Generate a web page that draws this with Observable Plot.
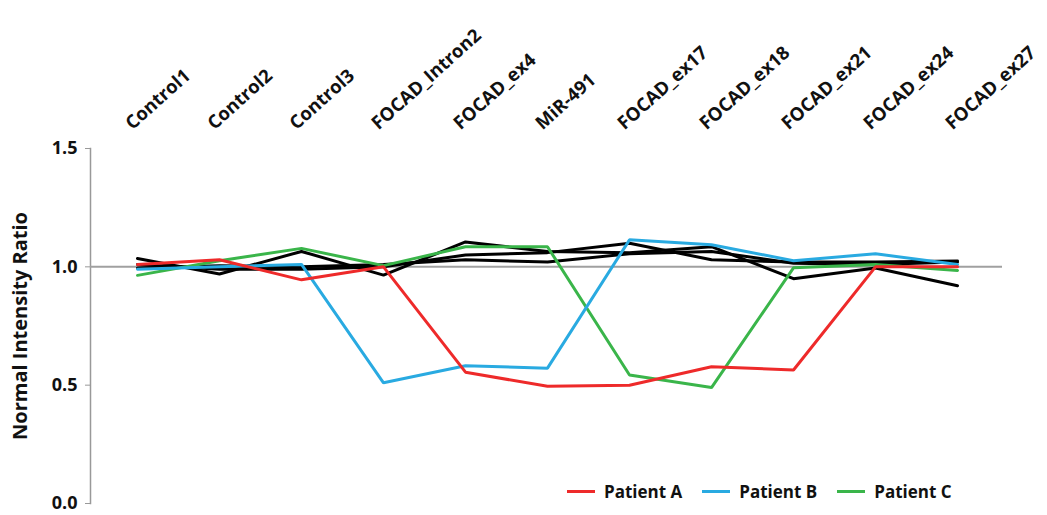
<!DOCTYPE html>
<html>
<head>
<meta charset="utf-8">
<script src="https://cdn.jsdelivr.net/npm/d3@7"></script>
<script src="https://cdn.jsdelivr.net/npm/@observablehq/plot@0.6"></script>
<style>
  html, body { margin: 0; padding: 0; background: #fff; }
  #wrap { position: relative; width: 1047px; height: 515px; font-family: "Open Sans", sans-serif; }
  #legend { position: absolute; left: 567px; top: 480px; display: flex; align-items: center; font-weight: bold; font-size: 17px; color: #111; }
  #legend .item { display: flex; align-items: center; margin-right: 20px; }
  #legend .sw { width: 28px; height: 3px; margin-right: 9px; }
</style>
</head>
<body>
<div id="wrap"><div id="legend"></div></div>
<script>
const categories = ["Control1","Control2","Control3","FOCAD_Intron2","FOCAD_ex4","MiR-491","FOCAD_ex17","FOCAD_ex18","FOCAD_ex21","FOCAD_ex24","FOCAD_ex27"];
const normal1 = [1.035, 0.97, 1.065, 0.965, 1.105, 1.065, 1.06, 1.085, 0.95, 0.995, 0.92];
const normal2 = [1.01, 0.99, 0.99, 1.0, 1.05, 1.06, 1.10, 1.03, 1.02, 1.02, 1.025];
const normal3 = [0.995, 1.005, 1.0, 1.01, 1.03, 1.02, 1.055, 1.065, 1.015, 1.01, 1.02];
const patientA = [1.01, 1.03, 0.945, 1.0, 0.555, 0.495, 0.5, 0.578, 0.564, 1.0, 1.0];
const patientB = [0.99, 1.0, 1.01, 0.51, 0.582, 0.572, 1.114, 1.093, 1.026, 1.055, 1.01];
const patientC = [0.964, 1.026, 1.078, 1.005, 1.085, 1.085, 0.543, 0.49, 0.996, 1.01, 0.985];
const yTicks = [0, 0.5, 1.0, 1.5];
const seriesNames = ["Normal 1","Normal 2","Normal 3","Patient C","Patient B","Patient A"];
const seriesValues = [normal1, normal2, normal3, patientC, patientB, patientA];
const seriesColors = ["#000000","#000000","#000000","#3ab54a","#29aae1","#ee2a2a"];
const legendNames = ["Patient A","Patient B","Patient C"];
const legendColors = ["#ee2a2a","#29aae1","#3ab54a"];

const rows = [];
seriesNames.forEach((s, i) => seriesValues[i].forEach((v, j) => rows.push({series: s, cat: categories[j], value: v})));

const plot = Plot.plot({
  width: 1047,
  height: 515,
  marginLeft: 90,
  marginRight: 45,
  marginTop: 148,
  marginBottom: 12,
  style: {fontFamily: "'Open Sans', sans-serif", fontWeight: "bold", color: "#111", background: "#fff", overflow: "visible"},
  x: {type: "point", domain: categories, range: [133, 960], padding: 0, axis: null},
  y: {domain: [0, 1.5], axis: null},
  color: {domain: seriesNames, range: seriesColors},
  marks: [
    Plot.frame({anchor: "left", stroke: "#999", strokeWidth: 1.5}),
    Plot.axisY({ticks: yTicks, tickFormat: d3.format(".1f"), tickSize: 5, tickPadding: 8, stroke: "#999", fontSize: 18, label: null}),
    Plot.ruleY([1], {stroke: "#a0a0a0", strokeWidth: 2}),
    Plot.line(rows, {x: "cat", y: "value", z: "series", stroke: "series", strokeWidth: 3, strokeLinejoin: "miter"}),
    Plot.text(categories, {x: d => d, frameAnchor: "top", dy: -18, dx: -5, rotate: -42, textAnchor: "start", lineAnchor: "bottom", fontSize: 18.5, fill: "#111"}),
    Plot.text(["Normal Intensity Ratio"], {frameAnchor: "left", rotate: -90, dx: -70, dy: 0, textAnchor: "middle", fontSize: 20, fill: "#111"})
  ]
});
document.getElementById("wrap").prepend(plot);

const legend = d3.select("#legend");
legendNames.forEach((n, i) => {
  const it = legend.append("div").attr("class", "item");
  it.append("div").attr("class", "sw").style("background", legendColors[i]);
  it.append("span").text(n);
});
</script>
</body>
</html>
